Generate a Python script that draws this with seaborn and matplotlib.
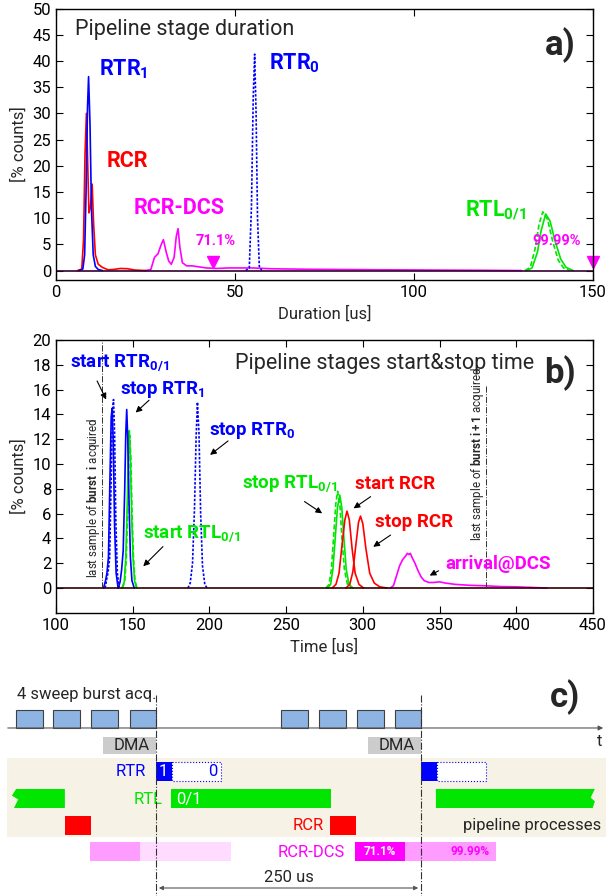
import numpy as np
import pandas as pd
import matplotlib
matplotlib.use('Agg')
import matplotlib.pyplot as plt
from matplotlib.patches import Rectangle, Polygon
import seaborn as sns

# ---- panel a: durata delle fasi (x in us, y in % counts)
a_rtr1_x = [6.5, 7.5, 8.0, 8.4, 8.8, 9.1, 9.5, 9.9, 10.4, 11.0, 11.8, 13.0]
a_rtr1_y = [0, 0.3, 3, 15, 31, 37, 28, 12, 3, 0.8, 0.2, 0]
a_rcr_x = [6.0, 7.2, 7.7, 8.1, 8.5, 8.8, 9.2, 9.6, 10.1, 10.5, 11.0, 11.8, 13.0, 14.5, 16, 18, 20, 22, 25]
a_rcr_y = [0, 0.3, 6, 22, 30, 22, 11, 12, 16.5, 9, 3, 1.2, 0.6, 0.15, 0.2, 0.4, 0.35, 0.1, 0]
a_rtr0_x = [53.0, 54.0, 54.6, 55.1, 55.5, 55.9, 56.3, 56.8, 57.5]
a_rtr0_y = [0, 0.5, 12, 33, 41.3, 30, 10, 0.8, 0]
a_dcs_x = [25, 26.5, 27.5, 28.5, 29.3, 30.0, 30.8, 31.5, 32.2, 33.0, 33.6, 34.1, 34.6, 35.3, 36.5,
           38, 40, 42, 45, 48, 52, 55, 60, 70, 80, 90, 100, 110, 120, 130]
a_dcs_y = [0, 0.2, 2.5, 3.2, 4.8, 5.9, 3.5, 1.8, 1.2, 2.5, 6.5, 8.0, 4.5, 1.5, 0.9,
           0.9, 0.7, 0.5, 0.4, 0.5, 0.5, 0.5, 0.35, 0.25, 0.2, 0.15, 0.12, 0.08, 0.05, 0]
a_rtl_x = [131.5, 133, 134.5, 135.5, 136.8, 138, 139.5, 141, 142.5, 144.5]
a_rtl_y = [0, 0.5, 3.5, 7.5, 10.8, 9.5, 5.5, 2.2, 0.6, 0]
a_rtl2_x = [131, 132.5, 133.8, 135, 136, 137.3, 138.8, 140.3, 141.8, 143.5]
a_rtl2_y = [0, 0.6, 4, 9, 11.2, 9.8, 5.5, 2, 0.5, 0]
a_pct_x = [44, 150]
a_pct_lab = ['71.1%', '99.99%']

# ---- panel b: tempi di start/stop
b_rtr_start_x = [131, 132.3, 133.2, 134.2, 135.2, 136.0, 136.6, 137.3, 138.2, 139.2, 140.5]
b_rtr_start_y = [0, 0.6, 1.2, 2.5, 9, 13.8, 14.5, 12, 5, 1.2, 0]
b_rtr_start2_x = [132, 133.2, 134.0, 135.0, 136.0, 136.8, 137.5, 138.2, 139.0, 140.0, 141.2]
b_rtr_start2_y = [0, 0.8, 1.3, 2.5, 9, 14.2, 15.2, 12.5, 5.5, 1.2, 0]
b_rtr1_stop_x = [140.5, 141.8, 142.8, 143.8, 144.8, 145.5, 146.1, 146.8, 147.6, 148.5, 149.5, 151]
b_rtr1_stop_y = [0, 0.5, 1.5, 3, 8, 12.5, 14.4, 12, 7, 2.5, 0.6, 0]
b_rtl_start_x = [143, 144.5, 145.5, 146.5, 147.3, 147.8, 148.5, 149.3, 150.2, 151.2, 152.5]
b_rtl_start_y = [0, 0.5, 2.5, 7, 11.5, 12.7, 10.5, 6, 2.5, 0.6, 0]
b_rtl_start2_x = [143.3, 144.8, 145.8, 146.8, 147.6, 148.1, 148.8, 149.6, 150.5, 151.5, 152.8]
b_rtl_start2_y = [0, 0.5, 2.3, 6.5, 11, 12.3, 10.5, 6, 2.5, 0.6, 0]
b_rtr0_stop_x = [186, 187.5, 189, 190.3, 191.3, 192.2, 193.2, 194.3, 195.5, 197, 198.5]
b_rtr0_stop_y = [0, 0.4, 2, 6.5, 12, 15, 12.5, 6, 1.8, 0.3, 0]
b_rtl_stop_x = [277, 279, 280.5, 282, 283.5, 285, 286.3, 287.7, 289.2, 291, 293.5]
b_rtl_stop_y = [0, 0.3, 1.5, 4, 6.5, 7.5, 6.5, 4, 1.5, 0.3, 0]
b_rtl_stop2_x = [276, 278, 279.5, 281, 282.4, 283.6, 285, 286.4, 288, 290, 292.5]
b_rtl_stop2_y = [0, 0.3, 1.5, 4.2, 6.8, 7.8, 6.8, 4, 1.5, 0.3, 0]
b_rcr_start_x = [280, 282.5, 284.5, 286.5, 288.3, 289.7, 291.2, 293, 295, 297.5, 300.5]
b_rcr_start_y = [0, 0.3, 1.2, 3.5, 5.5, 6.2, 5.5, 3.2, 1.2, 0.3, 0]
b_rcr_stop_x = [289, 291.5, 293.5, 295.5, 297.2, 298.5, 300, 302, 304.5, 307.5, 311, 316]
b_rcr_stop_y = [0, 0.3, 1.3, 3.5, 5.3, 5.8, 5.2, 3.2, 1.2, 0.4, 0.1, 0]
b_dcs_x = [318, 320, 322, 324, 326, 328, 329, 330, 331, 332, 334, 336, 338, 340, 343, 346,
           350, 354, 360, 370, 380, 390, 400, 410, 420]
b_dcs_y = [0, 0.2, 1.0, 1.8, 2.3, 2.6, 2.8, 2.7, 2.8, 2.5, 2.0, 1.4, 0.9, 0.6, 0.45, 0.45,
           0.5, 0.4, 0.3, 0.22, 0.18, 0.12, 0.1, 0.05, 0]
b_burst_x = [129.7, 380]

# ---- panel c: schema temporale (us, 0 = fine burst i)
c_burst_start = [-132, -97, -61, -25, 118, 154, 190, 225]
c_burst_w = 25
c_dma = [(-50, 50), (200, 50)]
c_rtr1 = [(0, 15), (250, 15)]
c_rtr0 = [(15, 46), (265, 46)]
c_rtl = [(-136, 50), (14, 151), (264, 150)]
c_rcr = [(-86, 25), (164, 25)]
c_dcs_dark = [(-62, 47), (235, 86)]
c_dcs_light = [(-15, 86)]
c_dcs_71 = (188, 47)
c_period = 250

BLUE, RED, GREEN, MAG = '#0000ff', '#ff0000', '#00e600', '#ff00ff'
FS = 12

sns.set_style('ticks')
plt.rcParams['font.family'] = ['Roboto', 'DejaVu Sans']
plt.rcParams['mathtext.fontset'] = 'custom'
plt.rcParams['mathtext.rm'] = 'Roboto'
plt.rcParams['mathtext.bf'] = 'Roboto:bold'
plt.rcParams['mathtext.it'] = 'Roboto:italic'

fig = plt.figure(figsize=(6.06, 8.96), dpi=100)
axa = fig.add_axes([0.0924, 0.6875, 0.886, 0.303])
axb = fig.add_axes([0.0924, 0.316, 0.886, 0.3045])
axc = fig.add_axes([0, 0, 1, 0.2969])

dots = (0, (1.5, 1))


def curva(ax, x, y, col, ls='-'):
    sns.lineplot(x=x, y=y, color=col, ax=ax, lw=1.2, linestyle=ls)


def stile(ax):
    ax.tick_params(direction='in', top=True, right=True, length=5, labelsize=FS,
                   width=0.8, colors='black')
    for s in ax.spines.values():
        s.set_linewidth(1)
        s.set_color('black')
    ax.set_ylabel('[% counts]', fontsize=FS)


# ---------------- a)
curva(axa, a_dcs_x, a_dcs_y, MAG)
curva(axa, a_rcr_x, a_rcr_y, RED)
curva(axa, a_rtr1_x, a_rtr1_y, BLUE)
curva(axa, a_rtr0_x, a_rtr0_y, BLUE, dots)
curva(axa, a_rtl_x, a_rtl_y, GREEN)
curva(axa, a_rtl2_x, a_rtl2_y, GREEN, (0, (3, 1.5)))
axa.axhline(0, color='#300030', lw=1.2)
axa.plot(a_pct_x, [1.6, 1.6], linestyle='none', marker='v', color=MAG, ms=8, clip_on=False)
axa.text(a_pct_x[0] + 0.5, 4.8, a_pct_lab[0], color=MAG, fontsize=10.5, fontweight='bold', ha='center')
axa.text(a_pct_x[1] - 10, 4.8, a_pct_lab[1], color=MAG, fontsize=10.5, fontweight='bold', ha='center')
axa.set_xlim(0, 150)
axa.set_ylim(-1.8, 50)
axa.set_xticks([0, 50, 100, 150])
axa.set_yticks(range(0, 51, 5))
axa.set_xlabel('Duration [us]', fontsize=FS)
stile(axa)
axa.text(5.2, 46, 'Pipeline stage duration', fontsize=15.5, va='center')
axa.text(136.5, 43, 'a)', fontsize=25, fontweight='bold', va='center')
axa.text(12, 38.5, r'RTR$_{\mathbf{1}}$', color=BLUE, fontsize=15.5, fontweight='bold', va='center')
axa.text(59.5, 39.5, r'RTR$_{\mathbf{0}}$', color=BLUE, fontsize=15.5, fontweight='bold', va='center')
axa.text(14.2, 21, 'RCR', color=RED, fontsize=15.5, fontweight='bold', va='center')
axa.text(21.6, 12, 'RCR-DCS', color=MAG, fontsize=15.5, fontweight='bold', va='center')
axa.text(114.4, 11.5, r'RTL$_{\mathbf{0/1}}$', color=GREEN, fontsize=15.5, fontweight='bold', va='center')

# ---------------- b)
curva(axb, b_rtr_start_x, b_rtr_start_y, BLUE)
curva(axb, b_rtr_start2_x, b_rtr_start2_y, BLUE, dots)
curva(axb, b_rtl_start_x, b_rtl_start_y, GREEN)
curva(axb, b_rtl_start2_x, b_rtl_start2_y, GREEN, (0, (3, 1.5)))
curva(axb, b_rtr1_stop_x, b_rtr1_stop_y, BLUE)
curva(axb, b_rtr0_stop_x, b_rtr0_stop_y, BLUE, dots)
curva(axb, b_rtl_stop_x, b_rtl_stop_y, GREEN)
curva(axb, b_rtl_stop2_x, b_rtl_stop2_y, GREEN, (0, (3, 1.5)))
curva(axb, b_rcr_start_x, b_rcr_start_y, RED)
curva(axb, b_rcr_stop_x, b_rcr_stop_y, RED)
curva(axb, b_dcs_x, b_dcs_y, MAG)
axb.axhline(0, color='#300000', lw=1.2)
axb.vlines(b_burst_x[0], 0, 20, color='#333333', lw=0.7, linestyle='-.')
axb.vlines(b_burst_x[1], 0, 16.4, color='#333333', lw=0.7, linestyle='-.')
axb.text(b_burst_x[0] - 5.5, 0.8, r'last sample of $\mathbf{burst\ \ i}$ acquired', rotation=90,
         fontsize=8.3, va='bottom', ha='center')
axb.text(b_burst_x[1] - 5.5, 3.8, r'last sample of $\mathbf{burst\ i+1}$ acquired', rotation=90,
         fontsize=8.3, va='bottom', ha='center')
axb.set_xlim(100, 450)
axb.set_ylim(-2, 20)
axb.set_xticks(range(100, 451, 50))
axb.set_yticks(range(0, 21, 2))
axb.set_xlabel('Time [us]', fontsize=FS)
stile(axb)
axb.text(217, 18.1, 'Pipeline stages start&stop time', fontsize=15.5, va='center')
axb.text(418.5, 17.3, 'b)', fontsize=25, fontweight='bold', va='center')

etichette = [
    (r'start RTR$_{\mathbf{0/1}}$', BLUE, (109, 18.2), (126, 16.9), (133.5, 15.0)),
    (r'stop RTR$_{\mathbf{1}}$', BLUE, (141.8, 16.0), (162, 15.3), (150.6, 14.0)),
    (r'stop RTR$_{\mathbf{0}}$', BLUE, (200, 12.7), (213.6, 12.0), (199, 10.6)),
    (r'start RTL$_{\mathbf{0/1}}$', GREEN, (157, 4.35), (171, 3.5), (155.6, 1.6)),
    (r'stop RTL$_{\mathbf{0/1}}$', GREEN, (221, 8.4), (260.5, 7.1), (275, 5.9)),
    ('start RCR', RED, (295, 8.4), (306.6, 7.5), (292.5, 6.3)),
    ('stop RCR', RED, (307.8, 5.3), (319.6, 4.4), (305.3, 3.2)),
    ('arrival@DCS', MAG, (354, 1.9), (351, 1.5), (342, 0.9)),
]
for lab, col, pos, coda, testa in etichette:
    axb.text(pos[0], pos[1], lab, color=col, fontsize=13.5, fontweight='bold', va='center')
    axb.annotate('', xy=testa, xytext=coda,
                 arrowprops=dict(arrowstyle='-|>', color='black', lw=0.8, mutation_scale=9))

# ---------------- c)
axc.set_xlim(-147.2, 424.5)
axc.set_ylim(896, 630)
axc.axis('off')
axc.text(-131, 695, '4 sweep burst acq.', fontsize=FS, va='center')
axc.text(371.7, 697, 'c)', fontsize=25, fontweight='bold', va='center')
for s in c_burst_start:
    axc.add_patch(Rectangle((s, 710), c_burst_w, 18, fc='#8db4e2', ec='#404040', lw=0.8))
axc.annotate('', xy=(424.5, 728), xytext=(-142.5, 728),
             arrowprops=dict(arrowstyle='-|>', color='#555555', lw=0.8, mutation_scale=7))
axc.text(416, 742, 't', fontsize=FS, va='center')
for s, w in c_dma:
    axc.add_patch(Rectangle((s, 737), w, 17, fc='#cccccc', ec='none'))
    axc.text(s + w / 2 + 2, 746, 'DMA', fontsize=FS, ha='center', va='center')
axc.add_patch(Rectangle((-140.6, 758), 570, 79, fc='#f6f2e5', ec='none', zorder=0))
# RTR
for s, w in c_rtr1:
    axc.add_patch(Rectangle((s, 762), w, 19, fc=BLUE, ec='none'))
for s, w in c_rtr0:
    axc.add_patch(Rectangle((s, 762), w, 19, fc='white', ec=BLUE, lw=0.8, linestyle=':'))
axc.text(c_rtr1[0][0] + 2, 772, '1', color='white', fontsize=FS, va='center')
axc.text(c_rtr0[0][0] + c_rtr0[0][1] - 3, 772, '0', color=BLUE, fontsize=FS, va='center', ha='right')
axc.text(-9.4, 772, 'RTR', color=BLUE, fontsize=FS, va='center', ha='right')
# RTL
t, h = 789, 19
s, w = c_rtl[0]
axc.add_patch(Polygon([(s + 4, t), (s + w, t), (s + w, t + h), (s + 2, t + h), (s + 6, t + h * 0.55),
                       (s, t + h * 0.35)], closed=True, fc=GREEN, ec='none'))
s, w = c_rtl[1]
axc.add_patch(Rectangle((s, t), w, h, fc=GREEN, ec='none'))
axc.text(s + 5, t + h / 2 + 1, '0/1', color='white', fontsize=FS, va='center')
s, w = c_rtl[2]
axc.add_patch(Polygon([(s, t), (s + w, t), (s + w - 4, t + h * 0.45), (s + w, t + h * 0.65),
                       (s + w - 2, t + h), (s, t + h)], closed=True, fc=GREEN, ec='none'))
axc.text(6.6, t + h / 2 + 1, 'RTL', color=GREEN, fontsize=FS, va='center', ha='right')
# RCR
for s, w in c_rcr:
    axc.add_patch(Rectangle((s, 816), w, 19, fc=RED, ec='none'))
axc.text(158.5, 826, 'RCR', color=RED, fontsize=FS, va='center', ha='right')
axc.text(290, 826, 'pipeline processes', fontsize=FS, va='center')
# RCR-DCS
for s, w in c_dcs_dark:
    axc.add_patch(Rectangle((s, 842), w, 19, fc='#ff9cff', ec='none'))
for s, w in c_dcs_light:
    axc.add_patch(Rectangle((s, 842), w, 19, fc='#ffdcff', ec='none'))
axc.add_patch(Rectangle((c_dcs_71[0], 842), c_dcs_71[1], 19, fc=MAG, ec='none'))
axc.text(c_dcs_71[0] + c_dcs_71[1] / 2, 852, a_pct_lab[0], color='white', fontsize=8.5,
         fontweight='bold', ha='center', va='center')
axc.text(296, 852, a_pct_lab[1], color=MAG, fontsize=8.5, fontweight='bold', ha='center', va='center')
axc.text(178.3, 853, 'RCR-DCS', color=MAG, fontsize=FS, va='center', ha='right')
# linee di riferimento e periodo
for xv in [0, c_period]:
    axc.plot([xv, xv], [695, 896], color='#333333', lw=0.8, linestyle='-.', zorder=5)
axc.annotate('', xy=(c_period, 888), xytext=(0, 888),
             arrowprops=dict(arrowstyle='<|-|>', color='#555555', lw=0.8, mutation_scale=6))
axc.text(c_period / 2, 878, '%d us' % c_period, fontsize=FS, ha='center', va='center')

fig.savefig('out.png', dpi=100)
